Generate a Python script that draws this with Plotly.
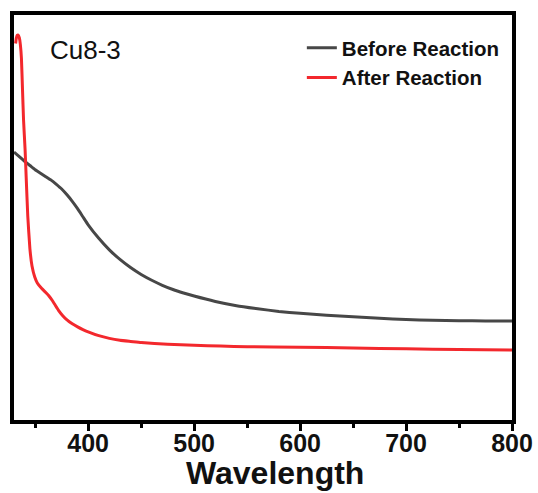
import plotly.graph_objects as go

# UV-vis absorbance spectra of Cu8-3 (arbitrary units)
before_wl = [330, 335, 340, 345, 350, 355, 360, 365, 370, 375, 380, 385, 390,
             395, 400, 410, 420, 430, 440, 450, 460, 470, 480, 490, 500, 520,
             540, 560, 580, 600, 625, 650, 675, 700, 725, 750, 775, 800]
before_abs = [0.696, 0.684, 0.672, 0.661, 0.650, 0.641, 0.632, 0.623, 0.612,
              0.600, 0.585, 0.568, 0.549, 0.528, 0.507, 0.472, 0.442, 0.417,
              0.396, 0.378, 0.363, 0.350, 0.339, 0.330, 0.322, 0.308, 0.297,
              0.289, 0.282, 0.277, 0.272, 0.268, 0.264, 0.261, 0.259, 0.258,
              0.257, 0.257]

after_wl = [331.5, 332.2, 333, 334, 335, 336, 337, 338, 339, 340.5, 341.5, 343,
            345, 347, 349.5, 352, 356, 360, 363, 366, 369, 372, 376, 380, 385,
            390, 395, 400, 410, 420, 430, 440, 450, 475, 500, 525, 550, 600,
            650, 700, 750, 800]
after_abs = [0.978, 0.992, 0.999, 1.0, 0.993, 0.975, 0.94, 0.86, 0.78, 0.70,
             0.63, 0.53, 0.445, 0.400, 0.372, 0.356, 0.342, 0.331, 0.322,
             0.311, 0.298, 0.285, 0.271, 0.260, 0.250, 0.242, 0.235, 0.229,
             0.219, 0.212, 0.207, 0.204, 0.201, 0.197, 0.194, 0.192, 0.1905,
             0.189, 0.187, 0.185, 0.183, 0.182]

x_ticks = [400, 500, 600, 700, 800]
sample_name = "Cu8-3"
x_title = "Wavelength"

FONT = "Liberation Sans, Arial, sans-serif"

fig = go.Figure()
fig.add_trace(go.Scatter(
    x=before_wl, y=before_abs, mode="lines", name="Before Reaction",
    line=dict(color="#474747", width=3, shape="spline", smoothing=0.4),
))
fig.add_trace(go.Scatter(
    x=after_wl, y=after_abs, mode="lines", name="After Reaction",
    line=dict(color="#f3282d", width=3, shape="spline", smoothing=0.4),
))

# sample label in the upper-left corner
fig.add_annotation(
    text=sample_name, xref="paper", yref="paper", x=0.068, y=0.914,
    xanchor="left", yanchor="middle", showarrow=False,
    font=dict(family=FONT, size=26, color="#111111"),
)

# x-axis title, anchored to the bottom edge of the figure
fig.add_annotation(
    text=x_title, xref="paper", yref="paper", x=0.525, y=-0.178,
    xanchor="center", yanchor="bottom", showarrow=False, borderpad=0,
    font=dict(family=FONT, size=32, color="#111111", weight="bold"),
)

fig.update_layout(
    width=538, height=493,
    margin=dict(l=14, r=26, t=15, b=73, autoexpand=False),
    paper_bgcolor="white", plot_bgcolor="white",
    showlegend=True,
    legend=dict(
        x=0.578, y=0.968, xanchor="left", yanchor="top",
        bgcolor="rgba(0,0,0,0)", borderwidth=0,
        font=dict(family=FONT, size=20.5, color="#111111", weight="bold"),
        tracegroupgap=0,
    ),
    xaxis=dict(
        range=[330, 800], tickvals=x_ticks, automargin=False,
        ticks="outside", ticklen=7, tickwidth=3, tickcolor="black",
        minor=dict(dtick=50, tick0=350, ticks="outside", ticklen=4,
                   tickwidth=3, tickcolor="black"),
        showline=True, linewidth=3.5, linecolor="black", mirror=True,
        showgrid=False, zeroline=False,
        ticklabelstandoff=-9,
        tickfont=dict(family=FONT, size=25, color="#111111", weight="bold"),
    ),
    yaxis=dict(
        range=[0, 1.052], showticklabels=False, ticks="", automargin=False,
        showline=True, linewidth=3.5, linecolor="black", mirror=True,
        showgrid=False, zeroline=False,
    ),
)

fig.write_html("out.html")
